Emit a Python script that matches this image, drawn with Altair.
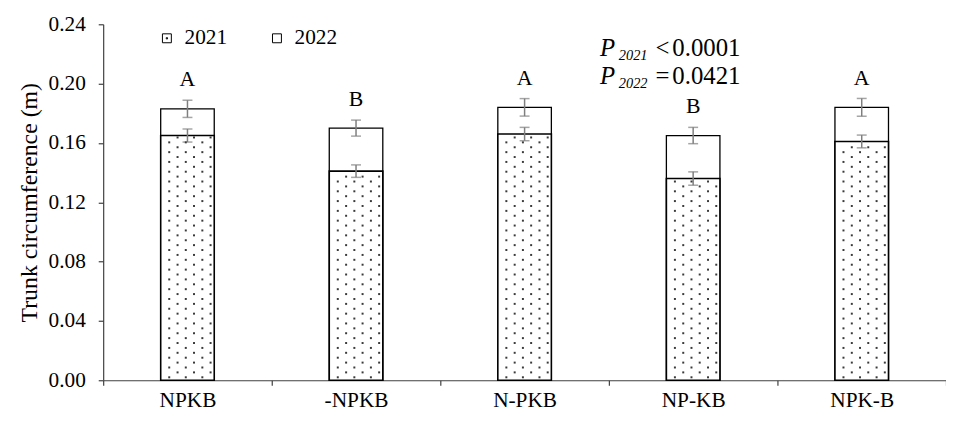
import json
import altair as alt
import pandas as pd

categories = ["NPKB", "-NPKB", "N-PKB", "NP-KB", "NPK-B"]
v2021 = [0.165, 0.141, 0.166, 0.136, 0.161]
v2022 = [0.183, 0.170, 0.184, 0.165, 0.184]
e2021 = [0.0044, 0.0042, 0.0045, 0.0045, 0.0043]
e2022 = [0.0058, 0.0054, 0.0059, 0.0055, 0.0060]
letters = ["A", "B", "A", "B", "A"]
years = ["2021", "2022"]
p_years = ["2021", "2022"]
p_ops = ["<", "="]
p_vals = ["0.0001", "0.0421"]
y_ticks = [0, 0.04, 0.08, 0.12, 0.16, 0.20, 0.24]

rows = []
for i, c in enumerate(categories):
    rows.append({"cat": c, "year": "2021", "value": v2021[i], "err": e2021[i], "letter": ""})
    rows.append({"cat": c, "year": "2022", "value": v2022[i], "err": e2022[i], "letter": letters[i]})
df = pd.DataFrame(rows)

df_p = pd.DataFrame({"cat": ["NP-KB", "NP-KB"], "line": [0, 1], "P": ["P", "P"],
                     "yr": p_years, "op": p_ops, "pv": p_vals})

F = "Liberation Serif"
AX = "#404040"
W = 850
H = 359
STEP = W / len(categories)
BAR_W = 54

x_scale = alt.Scale(domain=categories, paddingInner=0, paddingOuter=0)
y_scale = alt.Scale(domain=[0, 0.24], nice=False, zero=True)

x_axis = alt.Axis(title=None, labelAngle=0, tickBand="extent", tickSize=5, labelPadding=4,
                  labelFont=F, labelFontSize=21.5, labelColor="black",
                  domainColor=AX, tickColor=AX, domainWidth=1.2, tickWidth=1.2)
y_axis = alt.Axis(values=y_ticks, format=".2f", grid=False, tickSize=5, labelPadding=13,
                  labelFont=F, labelFontSize=21.5, labelColor="black",
                  title="Trunk circumference (m)", titleFont=F, titleFontSize=24,
                  titleFontWeight="normal", titleColor="black", titlePadding=7,
                  domainColor=AX, tickColor=AX, domainWidth=1.2, tickWidth=1.2)

X = alt.X("cat:N", scale=x_scale, axis=x_axis, sort=categories)
Xn = alt.X("cat:N", scale=x_scale, sort=categories)

base = alt.Chart(df)

bars2022 = base.transform_filter("datum.year == '2022'").mark_bar(
    width=BAR_W, fill="white", stroke="black", strokeWidth=1.3
).encode(x=X, y=alt.Y("value:Q", scale=y_scale, axis=y_axis))

bars2021 = base.transform_filter("datum.year == '2021'").mark_bar(
    width=BAR_W, fill="white", stroke="black", strokeWidth=1.6
).encode(x=Xn, y=alt.Y("value:Q", scale=y_scale))

err = base.transform_calculate(lo="datum.value - datum.err", hi="datum.value + datum.err")
err_rule = err.mark_rule(color="#7f7f7f", strokeWidth=1.5).encode(
    x=Xn, y=alt.Y("lo:Q", scale=y_scale), y2="hi:Q")
cap_lo = err.mark_tick(color="#7f7f7f", thickness=1.5, size=10, orient="horizontal").encode(
    x=Xn, y=alt.Y("lo:Q", scale=y_scale))
cap_hi = err.mark_tick(color="#7f7f7f", thickness=1.5, size=10, orient="horizontal").encode(
    x=Xn, y=alt.Y("hi:Q", scale=y_scale))

letter_txt = base.transform_filter("datum.year == '2022'").transform_calculate(
    top="datum.value + datum.err"
).mark_text(dy=-14, baseline="alphabetic", font=F, fontSize=22, color="black").encode(
    x=Xn, y=alt.Y("top:Q", scale=y_scale), text="letter:N")

ann_layers = []
Y0 = 0.2184
for i in range(2):
    pb = alt.Chart(df_p).transform_filter(f"datum.line == {i}")
    dy0 = i * 28
    ann_layers.append(pb.mark_text(align="left", baseline="alphabetic", font=F, fontSize=25,
                                   fontStyle="italic", dx=-94, dy=dy0, color="black").encode(
        x=Xn, y=alt.datum(Y0, scale=y_scale), text="P:N"))
    ann_layers.append(pb.mark_text(align="left", baseline="alphabetic", font=F, fontSize=14.5,
                                   fontStyle="italic", dx=-75, dy=dy0 + 4, color="black").encode(
        x=Xn, y=alt.datum(Y0, scale=y_scale), text="yr:N"))
    ann_layers.append(pb.mark_text(align="center", baseline="alphabetic", font=F, fontSize=25,
                                   dx=-31, dy=dy0, color="black").encode(
        x=Xn, y=alt.datum(Y0, scale=y_scale), text="op:N"))
    ann_layers.append(pb.mark_text(align="left", baseline="alphabetic", font=F, fontSize=25,
                                   dx=-21, dy=dy0, color="black").encode(
        x=Xn, y=alt.datum(Y0, scale=y_scale), text="pv:N"))

path_2021 = "M-1,-1H1V1H-1Z M-0.14,-0.14H0.14V0.14H-0.14Z"
legend_layer = base.transform_filter("datum.value < 0").mark_point(
    filled=False, color="black", size=81, opacity=1, strokeWidth=1
).encode(
    x=Xn, y=alt.Y("value:Q", scale=y_scale),
    shape=alt.Shape("year:N", scale=alt.Scale(domain=years, range=[path_2021, "square"]),
                    legend=alt.Legend(title=None, orient="none", legendX=53.5, legendY=3,
                                      direction="horizontal", labelFont=F, labelFontSize=21.5,
                                      labelColor="black", symbolSize=81, labelOffset=7,
                                      columnPadding=39, padding=0,
                                      symbolStrokeColor="black", symbolStrokeWidth=1,
                                      symbolOpacity=1)),
)

main = alt.layer(bars2022, bars2021, err_rule, cap_lo, cap_hi, letter_txt,
                 *ann_layers, legend_layer)

# dotted fill pattern of the 2021 bars, on its own linear x scale spanning the plot width
idx_expr = "indexof(" + json.dumps(categories) + ", datum.cat)"
dots = base.transform_filter("datum.year == '2021'").transform_calculate(
    ys="sequence(0.0020, datum.value - 0.0012, 0.0033)",
    idx=idx_expr,
).transform_flatten(["ys"]).transform_calculate(
    r="round((datum.ys - 0.0020) / 0.0033)"
).transform_calculate(
    cols="datum.r % 2 == 0 ? [-18.4, -1.7, 15] : [-10, 6.6, 23.3]"
).transform_flatten(["cols"]).transform_calculate(
    xp=f"(datum.idx + 0.5) * {STEP} + datum.cols"
).mark_square(size=4, color="#3a3a3a", opacity=1).encode(
    x=alt.X("xp:Q", scale=alt.Scale(domain=[0, W], nice=False, zero=False), axis=None),
    y=alt.Y("ys:Q", scale=y_scale),
)

chart = alt.layer(main, dots).resolve_scale(x="independent").properties(
    width=W, height=H,
    padding={"left": 96, "top": 14.7, "right": 0, "bottom": 405 - 14.7 - H},
    autosize=alt.AutoSizeParams(type="none"),
    background="white",
).configure_view(stroke=None)

chart.save("out.html", embed_options={"renderer": "svg", "actions": False})
